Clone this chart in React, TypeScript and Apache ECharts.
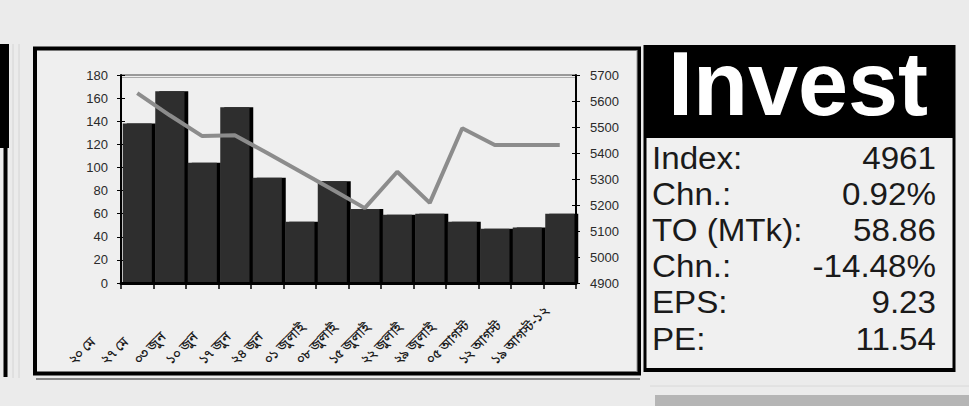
import React, { useEffect, useRef } from "react";
import * as echarts from "echarts";

const categories = ["২০ মে", "২৭ মে", "০৩ জুন", "১০ জুন", "১৭ জুন", "২৪ জুন", "০১ জুলাই", "০৮ জুলাই", "১৫ জুলাই", "২২ জুলাই", "২৯ জুলাই", "০৫ আগস্ট", "১২ আগস্ট", "১৯ আগস্ট-১২"];
const turnover = [138, 166, 104, 152, 91, 53, 88, 64, 59, 60, 53, 47, 48, 60];
const indexLine = [5630, 5545, 5465, 5468, 5400, 5330, 5260, 5188, 5328, 5208, 5495, 5431, 5431, 5431];
const leftTicks = { min: 0, max: 180, interval: 20 };
const rightTicks = { min: 4900, max: 5700, interval: 100 };
const panelTitle = "Invest";
const statLabels = ["Index:", "Chn.:", "TO (MTk):", "Chn.:", "EPS:", "PE:"];
const statValues = ["4961", "0.92%", "58.86", "-14.48%", "9.23", "11.54"];

const FONT2 = "'Liberation Sans', Arial, sans-serif";

export default function App() {
  const ref = useRef<HTMLDivElement>(null);
  useEffect(() => {
    if (!ref.current) return;
    const chart = echarts.init(ref.current, null, { renderer: "svg" });
    const rowY0 = 158;
    const rowStep = 36.2;
    const statTexts: any[] = [];
    statLabels.forEach((l, i) => {
      statTexts.push({
        type: "text", x: 652, y: rowY0 + i * rowStep, scaleX: 1.07,
        style: { text: l, fill: "#1a1a1a", font: `31px ${FONT2}`, align: "left", verticalAlign: "middle" },
      });
      statTexts.push({
        type: "text", x: 936, y: rowY0 + i * rowStep, scaleX: 1.07,
        style: { text: statValues[i], fill: "#1a1a1a", font: `31px ${FONT2}`, align: "right", verticalAlign: "middle" },
      });
    });
    const axisLabelStyle = { color: "#2a2a2a", fontSize: 13, fontFamily: FONT2 };
    const plain = (v: number) => String(v);
    chart.setOption({
      animation: false,
      backgroundColor: "#ebebeb",
      grid: { left: 121, right: 393, top: 75, bottom: 123 },
      xAxis: {
        type: "category",
        data: categories,
        boundaryGap: true,
        axisLine: { lineStyle: { color: "#000", width: 3 } },
        axisTick: { show: true, length: 6, lineStyle: { color: "#000", width: 1.5 } },
        axisLabel: {
          color: "#1a1a1a",
          fontSize: 13,
          fontFamily: FONT2,
          fontWeight: "bold",
          interval: 0,
          rotate: 45,
          align: "left",
          verticalAlign: "bottom",
          margin: 146,
          padding: [0, 0, 88, 0],
        },
        splitLine: { show: false },
        z: 5,
      },
      yAxis: [
        {
          type: "value", position: "left", ...leftTicks,
          axisLine: { show: true, lineStyle: { color: "#000", width: 2 } },
          axisTick: { show: true, length: 4, lineStyle: { color: "#000" } },
          axisLabel: { ...axisLabelStyle, margin: 13, formatter: plain },
          splitLine: { show: false },
        },
        {
          type: "value", position: "right", ...rightTicks,
          axisLine: { show: true, lineStyle: { color: "#000", width: 2 } },
          axisTick: { show: true, length: 4, lineStyle: { color: "#000" } },
          axisLabel: { ...axisLabelStyle, margin: 14, formatter: plain },
          splitLine: { show: false },
        },
        {
          type: "value", position: "left", ...leftTicks,
          axisLine: { show: false },
          axisTick: { show: true, inside: true, length: 4, lineStyle: { color: "#000" } },
          axisLabel: { show: false },
          splitLine: { show: false },
        },
        {
          type: "value", position: "right", ...rightTicks,
          axisLine: { show: false },
          axisTick: { show: true, inside: true, length: 4, lineStyle: { color: "#000" } },
          axisLabel: { show: false },
          splitLine: { show: false },
        },
      ],
      series: [
        {
          type: "bar",
          data: turnover,
          yAxisIndex: 0,
          barWidth: 29,
          itemStyle: {
            color: "#2f2f2f",
            shadowColor: "#050505",
            shadowOffsetX: 4,
            shadowOffsetY: 0,
            shadowBlur: 0,
          },
          z: 2,
        },
        {
          type: "line",
          data: indexLine,
          yAxisIndex: 1,
          showSymbol: false,
          symbol: "none",
          lineStyle: { color: "#8c8c8c", width: 4 },
          z: 3,
        },
      ],
      graphic: [
        // left partial panel
        { type: "rect", shape: { x: 0, y: 44, width: 9, height: 104 }, style: { fill: "#000" }, z: -10 },
        { type: "line", shape: { x1: 5.5, y1: 44, x2: 5.5, y2: 377 }, style: { stroke: "#000", lineWidth: 4 }, z: -10 },
        { type: "line", shape: { x1: 13, y1: 44, x2: 13, y2: 378 }, style: { stroke: "#d4d4d4", lineWidth: 1 }, z: -10 },
        { type: "line", shape: { x1: 19, y1: 44, x2: 19, y2: 378 }, style: { stroke: "#d4d4d4", lineWidth: 1 }, z: -10 },
        // chart frame
        { type: "rect", shape: { x: 35, y: 48.5, width: 604, height: 325 }, style: { fill: "#efefef", stroke: "#000", lineWidth: 4 }, z: -10 },
        { type: "line", shape: { x1: 36, y1: 379, x2: 640, y2: 379 }, style: { stroke: "#666", lineWidth: 1.5 }, z: -9 },
        { type: "line", shape: { x1: 637, y1: 50, x2: 637, y2: 372 }, style: { stroke: "#999", lineWidth: 1 }, z: -9 },
        // plot top double line
        { type: "line", shape: { x1: 121, y1: 75, x2: 576, y2: 75 }, style: { stroke: "#444", lineWidth: 1 }, z: -8 },
        { type: "line", shape: { x1: 121, y1: 77.5, x2: 576, y2: 77.5 }, style: { stroke: "#aaa", lineWidth: 1 }, z: -8 },
        // right panel
        { type: "rect", shape: { x: 645, y: 46.5, width: 309, height: 324 }, style: { fill: "#f0f0f0", stroke: "#000", lineWidth: 3 }, z: -10 },
        { type: "line", shape: { x1: 644, y1: 370, x2: 955, y2: 370 }, style: { stroke: "#000", lineWidth: 4 }, z: -9 },
        { type: "rect", shape: { x: 644, y: 45, width: 311, height: 93 }, style: { fill: "#000" }, z: -9 },
        {
          type: "text", x: 798, y: 84,
          style: { text: panelTitle, fill: "#fff", font: `bold 90px ${FONT2}`, align: "center", verticalAlign: "middle" },
          z: 10,
        },
        ...statTexts,
        // bottom-right gray strip
        { type: "line", shape: { x1: 650, y1: 386, x2: 969, y2: 386 }, style: { stroke: "#d8d8d8", lineWidth: 1 }, z: -9 },
        { type: "rect", shape: { x: 655, y: 395, width: 314, height: 11 }, style: { fill: "#b5b5b5" }, z: -9 },
      ],
    });
    return () => chart.dispose();
  }, []);
  return <div ref={ref} style={{ position: "fixed", left: 0, top: 0, width: 969, height: 406 }} />;
}
